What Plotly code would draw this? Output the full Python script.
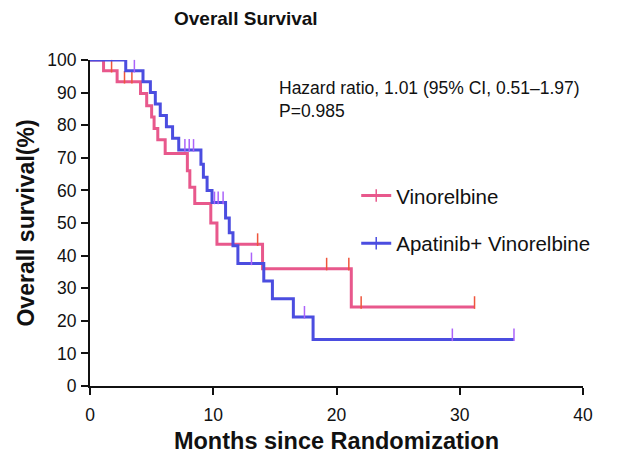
import plotly.graph_objects as go
import numpy as np

# Kaplan-Meier step data (months, survival %)
vin_t = [0, 1.1, 2.2, 4.1, 4.6, 5.0, 5.2, 5.5, 6.1, 7.9, 8.1, 8.5, 9.8, 10.3, 14.0, 21.2, 31.2]
vin_s = [100, 96.7, 93.3, 89.7, 86.0, 82.5, 79.0, 75.5, 71.3, 66.0, 61.0, 56.0, 50.0, 43.5, 36.0, 24.2, 24.2]
vin_cens = [0.95, 1.75, 2.8, 3.4, 13.6, 19.2, 21.0, 22.0, 31.2]

ap_t = [0, 2.9, 4.3, 4.9, 5.3, 5.7, 6.2, 6.7, 7.2, 9.0, 9.2, 9.5, 9.9, 11.0, 11.3, 11.6, 12.0, 14.1, 14.8, 16.5, 18.1, 34.4]
ap_s = [100, 96.7, 93.3, 90.0, 86.5, 83.0, 79.5, 76.0, 72.4, 68.0, 64.0, 60.0, 56.3, 51.5, 47.0, 43.0, 37.6, 32.2, 26.8, 21.2, 14.3, 14.3]
ap_cens = [1.6, 2.0, 2.4, 3.6, 7.7, 8.05, 8.4, 10.1, 10.4, 10.8, 13.1, 17.4, 29.4, 34.4]

names = ["Vinorelbine", "Apatinib+ Vinorelbine"]
colors = ["#e8588c", "#4b4de0"]

x_ticks = [0, 10, 20, 30, 40]
y_ticks = list(range(0, 101, 10))


def surv_at(times, surv, t):
    idx = np.searchsorted(np.array(times), t, side="right") - 1
    return surv[max(idx, 0)]


fig = go.Figure()
tick_off = 1.4
for t, s, c, col, nm in [(vin_t, vin_s, vin_cens, colors[0], names[0]),
                          (ap_t, ap_s, ap_cens, colors[1], names[1])]:
    fig.add_trace(go.Scatter(x=t, y=s, mode="lines", line=dict(color=col, width=3, shape="hv"),
                             showlegend=False, cliponaxis=False, hoverinfo="skip"))
    cy = [surv_at(t, s, ct) + tick_off for ct in c]
    fig.add_trace(go.Scatter(x=c, y=cy, mode="markers",
                             marker=dict(symbol="line-ns-open", size=9, line=dict(color=col, width=1.5)),
                             showlegend=False, cliponaxis=False, hoverinfo="skip"))

# legend entries
for i, (col, nm) in enumerate(zip(colors, names)):
    fig.add_trace(go.Scatter(x=[None], y=[None], mode="lines+markers", name=nm,
                             legendgroup=f"g{i}",
                             line=dict(color=col, width=3),
                             marker=dict(symbol="line-ns-open", size=9, line=dict(color=col, width=1.5))))

font_fam = "Liberation Sans, Arial, sans-serif"

fig.update_layout(
    width=622, height=457,
    margin=dict(l=82, r=47, t=52, b=79),
    paper_bgcolor="white", plot_bgcolor="white",
    font=dict(family=font_fam, size=15, color="#111"),
    showlegend=True,
    legend=dict(x=0.54, y=0.645, xanchor="left", yanchor="top",
                font=dict(size=20.5, family=font_fam, color="#111"),
                bgcolor="rgba(0,0,0,0)", tracegroupgap=18, itemwidth=30),
    xaxis=dict(range=[0, 40], tickvals=x_ticks, ticks="outside", ticklen=7, tickwidth=2,
               tickcolor="#111", showline=True, linecolor="#111", linewidth=2,
               showgrid=False, zeroline=False, tickfont=dict(size=17.5), ticklabelstandoff=5,
               title=dict(text="<b>Months since Randomization</b>", font=dict(size=23.5), standoff=9)),
    yaxis=dict(range=[0, 100], tickvals=y_ticks, ticks="outside", ticklen=7, tickwidth=2,
               tickcolor="#111", showline=True, linecolor="#111", linewidth=2,
               showgrid=False, zeroline=False, tickfont=dict(size=17.5), ticklabelstandoff=1,
               title=dict(text="<b>Overall survival(%)</b>", font=dict(size=23), standoff=6)),
    annotations=[
        dict(text="<b>Overall Survival</b>", xref="paper", yref="paper", x=0.316, y=1.0,
             yshift=42, showarrow=False, font=dict(size=19), xanchor="center", yanchor="middle"),
        dict(text="Hazard ratio, 1.01 (95% CI, 0.51–1.97)<br>P=0.985", xref="paper", yref="paper",
             x=0.38, y=0.95, xanchor="left", yanchor="top", align="left", showarrow=False,
             font=dict(size=17.5)),
    ],
)

fig.write_html("out.html")
